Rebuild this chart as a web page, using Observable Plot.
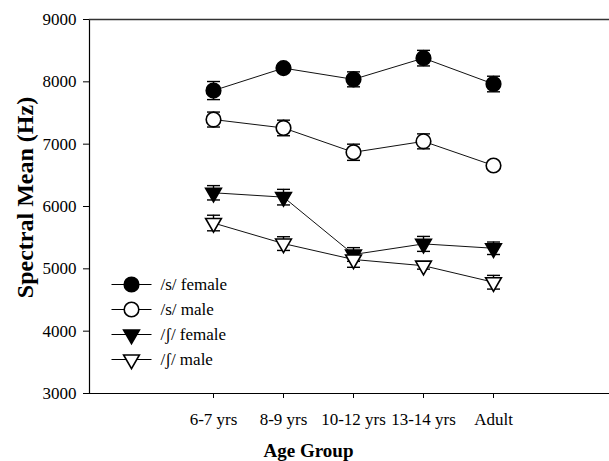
<!DOCTYPE html>
<html>
<head>
<meta charset="utf-8">
<script src="https://cdn.jsdelivr.net/npm/d3@7"></script>
<script src="https://cdn.jsdelivr.net/npm/@observablehq/plot@0.6"></script>
<style>
  html, body { margin: 0; padding: 0; background: #fff; }
  #chart svg, #chart svg text { font-family: "Liberation Serif", "Times New Roman", serif !important; }
</style>
</head>
<body>
<div id="chart"></div>
<script>
// ---- data ----
const ageGroups = ["6-7 yrs", "8-9 yrs", "10-12 yrs", "13-14 yrs", "Adult"];
const yTicks = [3000, 4000, 5000, 6000, 7000, 8000, 9000];
const seriesNames = ["/s/ female", "/s/ male", "/ʃ/ female", "/ʃ/ male"];
const sFemale = [7860, 8220, 8040, 8380, 7965];
const sFemaleErr = [145, 60, 120, 125, 125];
const sMale = [7395, 7260, 6870, 7045, 6658];
const sMaleErr = [120, 125, 130, 120, 60];
const shFemale = [6220, 6150, 5230, 5400, 5330];
const shFemaleErr = [115, 125, 110, 120, 100];
const shMale = [5735, 5405, 5150, 5050, 4785];
const shMaleErr = [125, 110, 125, 55, 110];

// ---- custom symbols ----
const downTriangle = {
  draw(ctx, size) {
    const r = Math.sqrt(size / Math.PI);
    const w = r * 1.08;
    const h = w * Math.sqrt(3);
    ctx.moveTo(-w, -h / 3);
    ctx.lineTo(w, -h / 3);
    ctx.lineTo(0, 2 * h / 3);
    ctx.closePath();
  }
};
const hLine = {
  draw(ctx, size) {
    const r = Math.sqrt(size / Math.PI);
    ctx.moveTo(-r, 0);
    ctx.lineTo(r, 0);
  }
};

const values = [sFemale, sMale, shFemale, shMale];
const errs = [sFemaleErr, sMaleErr, shFemaleErr, shMaleErr];
const symbols = ["circle", "circle", downTriangle, downTriangle];
const fills = ["black", "white", "black", "white"];

const seriesRows = seriesNames.map((name, i) =>
  ageGroups.map((age, j) => ({series: name, age, value: values[i][j], err: errs[i][j]}))
);
const rows = seriesRows.flat();

const marks = [
  Plot.frame({anchor: "left", stroke: "black", strokeWidth: 1.2}),
  Plot.frame({anchor: "top", stroke: "#333", strokeWidth: 1.3}),
  Plot.frame({anchor: "bottom", stroke: "black", strokeWidth: 1.2}),
  Plot.axisY({ticks: yTicks, tickFormat: d => String(d), tickSize: 6, tickPadding: 7, label: null, fontSize: 17}),
  Plot.axisX({tickSize: 5, tickPadding: 14, label: null, fontSize: 17}),
  Plot.text(["Spectral Mean (Hz)"], {text: d => d, frameAnchor: "left", dx: -64, dy: -9, rotate: -90, textAnchor: "middle", lineAnchor: "middle", fontWeight: "bold", fontSize: 24}),
  Plot.text(["Age Group"], {text: d => d, frameAnchor: "bottom", dx: -41, dy: 57, textAnchor: "middle", lineAnchor: "middle", fontWeight: "bold", fontSize: 19}),
  // connecting lines
  Plot.line(rows, {x: "age", y: "value", z: "series", stroke: "#111", strokeWidth: 1})
];

seriesRows.forEach((data, i) => {
  marks.push(
    Plot.ruleX(data, {x: "age", y1: d => d.value - d.err, y2: d => d.value + d.err, stroke: "black", strokeWidth: 1.4}),
    Plot.dot(data, {x: "age", y: d => d.value - d.err, symbol: hLine, r: 6.5, stroke: "black", strokeWidth: 1.4}),
    Plot.dot(data, {x: "age", y: d => d.value + d.err, symbol: hLine, r: 6.5, stroke: "black", strokeWidth: 1.4}),
    Plot.dot(data, {x: "age", y: "value", symbol: symbols[i], r: 7.3, fill: fills[i], stroke: "black", strokeWidth: 1.6})
  );
  // legend entry
  const dy = 265 + 25 * i;
  marks.push(
    Plot.dot([seriesNames[i]], {frameAnchor: "top-left", dx: 42, dy, symbol: hLine, r: 20, stroke: "black", strokeWidth: 1}),
    Plot.dot([seriesNames[i]], {frameAnchor: "top-left", dx: 42, dy, symbol: symbols[i], r: 7.3, fill: fills[i], stroke: "black", strokeWidth: 1.6}),
    Plot.text([seriesNames[i]], {text: d => d, frameAnchor: "top-left", dx: 71, dy, textAnchor: "start", lineAnchor: "middle", fontSize: 17})
  );
});

const chart = Plot.plot({
  width: 609,
  height: 461,
  marginLeft: 89,
  marginRight: 0,
  marginTop: 19,
  marginBottom: 68,
  style: {fontFamily: "Liberation Serif", fontSize: "17px", color: "black", background: "white"},
  x: {type: "point", domain: ageGroups, range: [177, 528]},
  y: {domain: [3000, 9000]},
  marks
});
document.getElementById("chart").appendChild(chart);
</script>
</body>
</html>
